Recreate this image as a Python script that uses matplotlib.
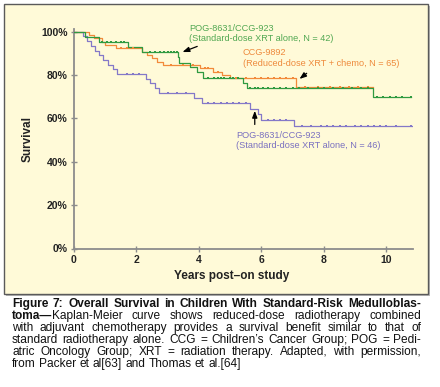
import matplotlib
matplotlib.use('Agg')
import matplotlib.pyplot as plt
import numpy as np
from matplotlib.patches import Rectangle

plt.rcParams['font.family'] = ['Liberation Sans', 'DejaVu Sans']

# ---------------- data ----------------
# Kaplan-Meier step data: event times (years) and survival (%) after each step
green_times = [0, 0.35, 0.8, 1.75, 2.2, 3.33, 3.36, 3.72, 3.93, 4.14, 5.42, 5.53, 9.57]
green_surv = [100, 97.6, 95.2, 92.9, 90.5, 88.1, 85.7, 83.5, 81.2, 78.8, 76.4, 74.0, 70.0]
green_end = 10.8
green_censor = [0.9, 1.05, 1.2, 1.35, 1.5, 1.6, 2.45, 2.6, 2.75, 2.9, 3.0, 3.1, 3.2, 3.3,
                4.3, 4.5, 4.6, 4.7, 4.8, 5.0, 5.1, 5.25, 5.65, 5.8, 5.9, 6.05, 6.2, 6.4,
                6.6, 6.8, 7.0, 7.2, 7.5, 7.8, 8.0, 8.3, 8.6, 8.9, 9.2, 9.4, 9.7, 9.9,
                10.1, 10.3, 10.5, 10.8]

orange_times = [0, 0.5, 0.65, 0.9, 1.0, 1.35, 2.2, 2.35, 2.5, 2.65, 2.85, 4.04, 4.46, 4.73, 4.99, 7.12]
orange_surv = [100, 98.5, 96.9, 95.4, 93.8, 92.3, 90.8, 89.2, 87.7, 86.2, 84.6, 83.1, 81.6, 80.1, 78.5, 74.5]
orange_end = 9.57
orange_censor = [1.5, 1.7, 1.9, 3.1, 3.5, 3.8, 4.2, 4.3, 4.6, 5.2, 5.5, 5.8, 6.0, 6.2, 6.4,
                 6.6, 6.8, 7.0, 7.4, 7.8, 8.2, 8.5, 8.8, 9.1, 9.4]

purple_times = [0, 0.3, 0.42, 0.55, 0.68, 0.8, 0.95, 1.1, 1.25, 1.4, 1.5, 2.3, 2.45, 2.6,
                2.72, 3.85, 4.1, 5.63, 5.9, 6.0, 7.05]
purple_surv = [100, 97.8, 95.7, 93.5, 91.3, 89.1, 87.0, 84.8, 82.6, 80.4, 80.4, 78.3, 76.1,
               73.9, 71.7, 69.5, 67.3, 64.5, 62.0, 59.3, 56.6]
purple_end = 10.82
purple_censor = [1.7, 1.9, 2.1, 3.0, 3.3, 3.6, 4.3, 4.5, 4.7, 4.9, 5.1, 5.3, 5.5, 6.2, 6.4,
                 6.6, 6.8, 7.3, 7.6, 7.9, 8.1, 8.3, 8.5, 8.7, 9.0, 9.2, 9.4, 9.6, 9.8, 10.0,
                 10.3, 10.8]

y_ticks = [0, 20, 40, 60, 80, 100]
y_labels = ['0%', '20%', '40%', '60%', '80%', '100%']
x_ticks = [0, 2, 4, 6, 8, 10]

labels = {
    'green': 'POG-8631/CCG-923\n(Standard-dose XRT alone, N = 42)',
    'orange': 'CCG-9892\n(Reduced-dose XRT + chemo, N = 65)',
    'purple': 'POG-8631/CCG-923\n(Standard-dose XRT alone, N = 46)',
}

caption_lines = [
    [[("Figure", True)], [("7:", True)], [("Overall", True)], [("Survival", True)], [("in", True)],
     [("Children", True)], [("With", True)], [("Standard-Risk", True)], [("Medulloblas-", True)]],
    [[("toma\u2014", True), ("Kaplan-Meier", False)], [("curve", False)], [("shows", False)],
     [("reduced-dose", False)], [("radiotherapy", False)], [("combined", False)]],
    [[(w, False)] for w in "with adjuvant chemotherapy provides a survival benefit similar to that of".split()],
    [[(w, False)] for w in "standard radiotherapy alone. CCG = Children\u2019s Cancer Group; POG = Pedi-".split()],
    [[(w, False)] for w in "atric Oncology Group; XRT = radiation therapy. Adapted, with permission,".split()],
    [[(w, False)] for w in "from Packer et al[63] and Thomas et al.[64]".split()],
]

# ---------------- figure ----------------
W, H = 440, 387
fig = plt.figure(figsize=(W / 100, H / 100), dpi=100)
fig.patch.set_facecolor('white')

fig.patches.append(Rectangle((6 / W, 1 - 296 / H), 424 / W, 290 / H, transform=fig.transFigure,
                             facecolor='#b8b8b8', edgecolor='none', zorder=-2))
fig.patches.append(Rectangle((4 / W, 1 - 294 / H), 424 / W, 290 / H, transform=fig.transFigure,
                             facecolor='#fffad8', edgecolor='#5a5a5a', lw=1.0, zorder=-1))

ax = fig.add_axes([73.7 / W, 1 - 248.5 / H, (413 - 73.7) / W, (248.5 - 29.5) / H])
ax.patch.set_alpha(0)
ax.set_xlim(0, 10.85)
ax.set_ylim(0, 101)
for s in ['top', 'right']:
    ax.spines[s].set_visible(False)
for s in ['left', 'bottom']:
    ax.spines[s].set_color('#8c8c8c')
    ax.spines[s].set_linewidth(1.3)

ax.set_yticks(y_ticks)
ax.set_yticklabels(y_labels)
ax.set_xticks(x_ticks)
ax.tick_params(direction='inout', length=5, width=1.0, color='#8c8c8c', labelsize=7.5,
               labelcolor='#222222', pad=2)
for lab in ax.get_xticklabels() + ax.get_yticklabels():
    lab.set_fontweight('bold')

def km(times, surv, end, censor, color):
    t = list(times) + [end]
    s = list(surv) + [surv[-1]]
    ax.step(t, s, where='post', color=color, lw=0.9, zorder=3)
    idx = np.searchsorted(np.array(times), np.array(censor), side='right') - 1
    cs = np.array(surv)[idx]
    ax.plot(censor, cs, ls='none', marker='s', ms=1.8, mew=0, color=color, zorder=4)

c_orange = '#f28a3a'
c_green = '#2f9a40'
c_purple = '#8478c8'
km(orange_times, orange_surv, orange_end, orange_censor, c_orange)
km(purple_times, purple_surv, purple_end, purple_censor, c_purple)
km(green_times, green_surv, green_end, green_censor, c_green)

fs = 6.55

# labels
fig.text(189 / W, 1 - 33.5 / H, labels['green'], color='#52a852', fontsize=fs, va='center',
         ha='left', linespacing=1.2)
fig.text(242.5 / W, 1 - 58 / H, labels['orange'], color='#ee8a3c', fontsize=fs, va='center',
         ha='left', linespacing=1.2)
fig.text(236 / W, 1 - 140.5 / H, labels['purple'], color='#7a70c0', fontsize=fs, va='center',
         ha='left', linespacing=1.2)

arrowprops = dict(arrowstyle='-|>,head_length=0.4,head_width=0.15', color='black', lw=0.9,
                  shrinkA=0, shrinkB=0)
ax.annotate('', xy=(3.48, 90.6), xytext=(3.95, 93.2), arrowprops=arrowprops)
ax.annotate('', xy=(7.22, 78.2), xytext=(7.45, 80.8), arrowprops=arrowprops)
ax.annotate('', xy=(5.79, 63.5), xytext=(5.79, 57.2), arrowprops=arrowprops)

ax.set_ylabel('Survival', fontsize=8.5, fontweight='bold', color='#222222', labelpad=5)
fig.text(232 / W, 1 - 276 / H, 'Years post\u2013on study', fontsize=8.5, fontweight='bold',
         color='#222222', ha='center', va='center')

# caption, justified
renderer = fig.canvas.get_renderer()
cap_left, cap_right = 12, 421
cap_fs = 8.6
for i, line in enumerate(caption_lines):
    y = 1 - (304 + 12 * i) / H
    words = []
    for word in line:
        parts = []
        for txt, bold in word:
            t = fig.text(0, y, txt, fontsize=cap_fs, fontweight='bold' if bold else 'normal',
                         color='#111111', ha='left', va='center')
            w = t.get_window_extent(renderer).width
            parts.append((t, w))
        words.append(parts)
    widths = [sum(w for _, w in p) for p in words]
    total = sum(widths)
    last = (i == len(caption_lines) - 1)
    if last or len(words) == 1:
        gap = 3.3
    else:
        gap = (cap_right - cap_left - total) / (len(words) - 1)
    x = cap_left
    for parts in words:
        for t, w in parts:
            t.set_x(x / W)
            x += w
        x += gap

fig.savefig('out.png', dpi=100, facecolor='white')
